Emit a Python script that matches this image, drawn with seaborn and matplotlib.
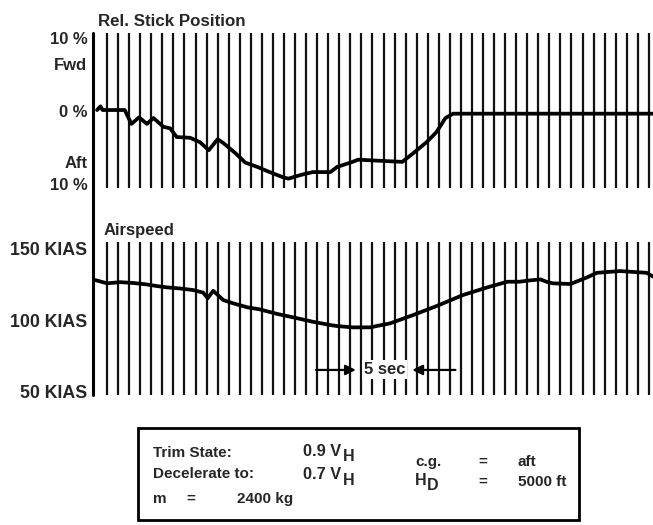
import numpy as np
import pandas as pd
import matplotlib
matplotlib.use("Agg")
import matplotlib.pyplot as plt
from matplotlib.patches import Rectangle
from matplotlib.lines import Line2D
import seaborn as sns

# ---------------- data ----------------
stick_t = [-0.9, -0.6, -0.4, 1.6, 2.2, 2.9, 3.6, 4.2, 5.1, 5.7, 6.3, 7.5, 8.4, 9.2, 10.0,
           10.5, 11.6, 12.5, 13.6, 14.7, 15.9, 16.4, 17.5, 18.6, 20.2, 20.8, 22.2, 22.7,
           25.3, 26.7, 27.7, 28.9, 29.8, 30.6, 31.3, 32.8, 40.0, 49.4]
stick_pct = [0.2, 0.7, 0.2, 0.2, -1.7, -0.8, -1.7, -0.9, -2.1, -2.3, -3.5, -3.6, -4.2, -5.3, -3.8,
             -4.3, -5.7, -7.0, -7.6, -8.3, -9.0, -9.2, -8.7, -8.3, -8.3, -7.6, -6.9, -6.6,
             -6.8, -6.9, -5.7, -4.2, -2.8, -0.9, -0.3, -0.3, -0.3, -0.3]

speed_t = [-1.1, 0.0, 1.2, 2.4, 3.5, 4.5, 5.4, 6.6, 7.8, 8.7, 9.1, 9.6, 10.5, 11.4, 12.7,
           13.8, 15.4, 16.8, 18.6, 20.2, 20.8, 22.2, 23.8, 25.6, 27.7, 29.8, 32.2, 34.4,
           36.2, 37.3, 38.2, 39.2, 39.8, 40.3, 41.9, 43.4, 44.3, 46.4, 48.8, 49.4]
speed_kias = [127.8, 125.5, 126.3, 125.7, 124.8, 123.6, 122.7, 121.9, 120.8, 119.0, 115.1, 120.3,
              113.9, 111.6, 108.8, 107.4, 104.2, 101.9, 98.8, 96.5, 95.8, 94.9, 94.9, 97.7,
              103.5, 109.7, 117.4, 122.7, 126.6, 126.6, 127.5, 128.2, 126.4, 125.5, 125.0,
              129.6, 132.8, 134.0, 132.8, 130.1]

stick_ticks = [10, 6.5, 0, -6.9, -10]
stick_labels = ["10 %", "Fwd", "0 %", "Aft", "10 %"]
speed_ticks = [150, 100, 50]
speed_labels = ["150 KIAS", "100 KIAS", "50 KIAS"]
seconds = np.arange(0, 50)

# ---------------- style ----------------
sns.set_theme(style="white")
plt.rcParams["font.family"] = ["Liberation Sans", "DejaVu Sans"]
plt.rcParams["font.weight"] = "bold"

W, H = 653, 525
fig = plt.figure(figsize=(W / 100, H / 100), dpi=100)

def fx(px):
    return px / W

def fy(py):
    return 1 - py / H

ax_left, ax_right = 93, 653
ax1 = fig.add_axes([fx(ax_left), fy(188), fx(ax_right - ax_left), (188 - 33) / H])
ax2 = fig.add_axes([fx(ax_left), fy(395), fx(ax_right - ax_left), (395 - 242) / H])

xlim = (-1.27, 49.37)
for ax in (ax1, ax2):
    ax.set_xlim(*xlim)
    ax.set_xticks(seconds)
    ax.set_xticklabels([])
    ax.grid(axis="x", color="#111111", linewidth=1.6)
    ax.grid(axis="y", visible=False)
    for s in ax.spines.values():
        s.set_visible(False)
    ax.tick_params(axis="x", length=0)
    ax.tick_params(axis="y", length=0, pad=4)
    ax.set_facecolor("white")

df_stick = pd.DataFrame({"t": stick_t, "pct": stick_pct})
df_speed = pd.DataFrame({"t": speed_t, "kias": speed_kias})

sns.lineplot(data=df_stick, x="t", y="pct", ax=ax1, color="black", linewidth=2.7, zorder=5)
sns.lineplot(data=df_speed, x="t", y="kias", ax=ax2, color="black", linewidth=2.7, zorder=5)

ax1.set_ylim(-10.48, 10.75)
ax1.set_yticks(stick_ticks)
ax1.set_yticklabels(stick_labels, fontweight="bold", fontsize=12)
ax2.set_ylim(47.9, 154.2)
ax2.set_yticks(speed_ticks)
ax2.set_yticklabels(speed_labels, fontweight="bold", fontsize=12.8)
for ax in (ax1, ax2):
    ax.set_xlabel("")
    ax.set_ylabel("")

# panel titles
fig.text(fx(98), fy(21), "Rel. Stick Position", fontsize=12.2, fontweight="bold", va="center", ha="left")
fig.text(fx(104), fy(230), "Airspeed", fontsize=12, fontweight="bold", va="center", ha="left")

# continuous left axis line
fig.add_artist(Line2D([fx(93), fx(93)], [fy(33), fy(395)], color="black", linewidth=2.2))

# 5 sec annotation
y_ann = 65.3
ax2.annotate("", xy=(22.5, y_ann), xytext=(18.9, y_ann),
             arrowprops=dict(arrowstyle="-|>", color="black", lw=1.6, mutation_scale=15,
                             shrinkA=0, shrinkB=0), zorder=6)
ax2.annotate("", xy=(27.6, y_ann), xytext=(31.5, y_ann),
             arrowprops=dict(arrowstyle="-|>", color="black", lw=1.6, mutation_scale=15,
                             shrinkA=0, shrinkB=0), zorder=6)
ax2.text(25.1, y_ann, "5 sec", fontsize=12, fontweight="bold", ha="center", va="center",
         zorder=7, bbox=dict(facecolor="white", edgecolor="none", pad=1.5))

# info box
fig.add_artist(Rectangle((fx(138), fy(520)), fx(579 - 138), (520 - 428) / H,
                         fill=False, edgecolor="black", linewidth=2.0))
fs = 11
def t(x, y, s, size=fs):
    fig.text(fx(x), fy(y), s, fontsize=size, fontweight="bold", ha="left", va="baseline")

t(153, 457, "Trim State:")
t(303, 456, "0.9 V", 11.8)
t(343, 461, "H", 11.5)
t(153, 478, "Decelerate to:")
t(303, 479, "0.7 V", 11.8)
t(343, 485, "H", 11.5)
t(153, 503, "m")
t(186, 503, "=")
t(237, 503, "2400 kg")
t(415, 466, "c.g.")
t(478, 466, "=")
t(518, 466, "aft")
t(415, 485, "H", 11.5)
t(427, 490, "D", 11.5)
t(478, 486, "=")
t(518, 486, "5000 ft")

fig.savefig("out.png", dpi=100, facecolor="white")
